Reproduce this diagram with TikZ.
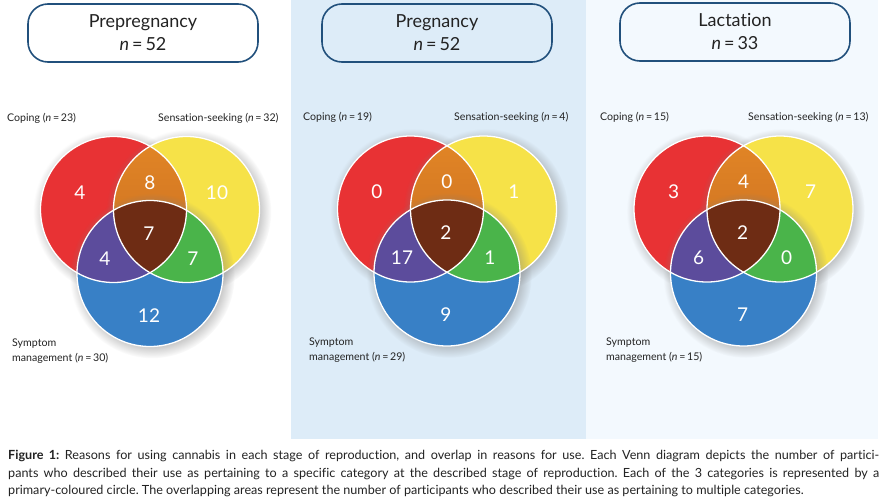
\documentclass[tikz,border=0pt]{standalone}
\usepackage{fontspec}
\setmainfont{Lato}[Ligatures=NoCommon]
\usetikzlibrary{shadows,fadings}
\definecolor{vred}{RGB}{232,50,52}
\definecolor{vyel}{RGB}{246,226,72}
\definecolor{vblu}{RGB}{56,128,198}
\definecolor{vorgT}{RGB}{226,134,38}
\definecolor{vorgB}{RGB}{200,108,32}
\definecolor{vpur}{RGB}{92,76,156}
\definecolor{vgrn}{RGB}{74,180,74}
\definecolor{vbrn}{RGB}{110,44,20}
\definecolor{panelM}{RGB}{221,236,248}
\definecolor{panelR}{RGB}{243,249,254}
\definecolor{boxline}{RGB}{33,80,124}
\definecolor{txt}{RGB}{35,35,35}
\tikzset{
  vcirc/.style={circle, minimum size=146pt, inner sep=0pt, outer sep=0pt,
    circular drop shadow={shadow xshift=2pt, shadow yshift=-2pt, opacity=0.42, shadow scale=1.13}},
  vnum/.style={text=white, font=\fontsize{19}{20}\selectfont, inner sep=0pt},
  stagebox/.style={draw=boxline, line width=1.6pt, rounded corners=20pt, minimum width=230pt, minimum height=58pt,
    align=center, text=txt, font=\fontsize{18}{23}\selectfont},
  setlabel/.style={text=txt, font=\fontsize{10.6}{15.5}\selectfont, inner sep=0pt, align=left},
  capline/.style={text=txt, font=\fontsize{12.6}{15}\selectfont, inner sep=0pt, anchor=base west},
  vedge/.style={white, line width=1.3pt}
}
\newcommand\myvenn[8]{%
  \node[vcirc, fill=vred] (#1r) at (-36.5,0) {};
  \node[vcirc, fill=vyel] (#1y) at (36.5,0) {};
  \begin{scope}\clip (#1r.center) circle (73pt); \fill[top color=vorgT, bottom color=vorgB, shading angle=0] (#1y.center) circle (73pt);\end{scope}
  \node[vcirc, fill=vblu] (#1b) at (0,64) {};
  \begin{scope}\clip (#1r.center) circle (73pt); \fill[vpur] (#1b.center) circle (73pt);\end{scope}
  \begin{scope}\clip (#1y.center) circle (73pt); \fill[vgrn] (#1b.center) circle (73pt);\end{scope}
  \begin{scope}\clip (#1r.center) circle (73pt); \clip (#1y.center) circle (73pt); \fill[vbrn] (#1b.center) circle (73pt);\end{scope}
  \draw[vedge] (#1r.center) circle (73pt);
  \draw[vedge] (#1y.center) circle (73pt);
  \draw[vedge] (#1b.center) circle (73pt);
  \node[vnum] (#1n1) at (-70,-17) {#2};
  \node[vnum] (#1n2) at (0,-27) {#3};
  \node[vnum] (#1n3) at (67,-17) {#4};
  \node[vnum] (#1n4) at (-1,24) {#5};
  \node[vnum] (#1n5) at (-45,49) {#6};
  \node[vnum] (#1n6) at (43,49) {#7};
  \node[vnum] (#1n7) at (-1,106) {#8};
}
\begin{document}
\frenchspacing
\begin{tikzpicture}[x=1pt,y=-1pt]
\useasboundingbox (0,0) rectangle (896,503);
\fill[white] (0,0) rectangle (896,503);
\fill[panelM] (291,0) rectangle (586,439);
\fill[panelR] (586,0) rectangle (878,439);

% headers
\node[stagebox, fill=white] (h1) at (143,33) {Prepregnancy\\\textit{n}\,=\,52};
\node[stagebox] (h2) at (437,33) {Pregnancy\\\textit{n}\,=\,52};
\node[stagebox] (h3) at (735,32) {Lactation\\\textit{n}\,=\,33};

% Venn diagrams
\begin{scope}[shift={(150,209.5)}]\myvenn{L}{4}{8}{10}{7}{4}{7}{12}\end{scope}
\begin{scope}[shift={(447,209)}]\myvenn{M}{0}{0}{1}{2}{17}{1}{9}\end{scope}
\begin{scope}[shift={(743.5,209)}]\myvenn{R}{3}{4}{7}{2}{6}{0}{7}\end{scope}

% labels
\node[setlabel, anchor=west] (lc1) at (7,118) {Coping (\textit{n}\,=\,23)};
\node[setlabel, anchor=west] (ls1) at (158,118) {Sensation-seeking (\textit{n}\,=\,32)};
\node[setlabel, anchor=west] (lm1) at (12,351) {Symptom\\management (\textit{n}\,=\,30)};
\node[setlabel, anchor=west] (lc2) at (303,117) {Coping (\textit{n}\,=\,19)};
\node[setlabel, anchor=west] (ls2) at (454,117) {Sensation-seeking (\textit{n}\,=\,4)};
\node[setlabel, anchor=west] (lm2) at (309,350) {Symptom\\management (\textit{n}\,=\,29)};
\node[setlabel, anchor=west] (lc3) at (600,117) {Coping (\textit{n}\,=\,15)};
\node[setlabel, anchor=west] (ls3) at (748,117) {Sensation-seeking (\textit{n}\,=\,13)};
\node[setlabel, anchor=west] (lm3) at (606,350) {Symptom\\management (\textit{n}\,=\,15)};

% caption
\node[capline] (c1) at (8,459) {\makebox[871pt][s]{\textbf{Figure 1:} Reasons for using cannabis in each stage of reproduction, and overlap in reasons for use. Each Venn diagram depicts the number of partici-}};
\node[capline] (c2) at (8,477) {\makebox[871pt][s]{pants who described their use as pertaining to a specific category at the described stage of reproduction. Each of the 3 categories is represented by a}};
\node[capline] (c3) at (8,494.5) {primary-coloured circle. The overlapping areas represent the number of participants who described their use as pertaining to multiple categories.};
\end{tikzpicture}
\end{document}
